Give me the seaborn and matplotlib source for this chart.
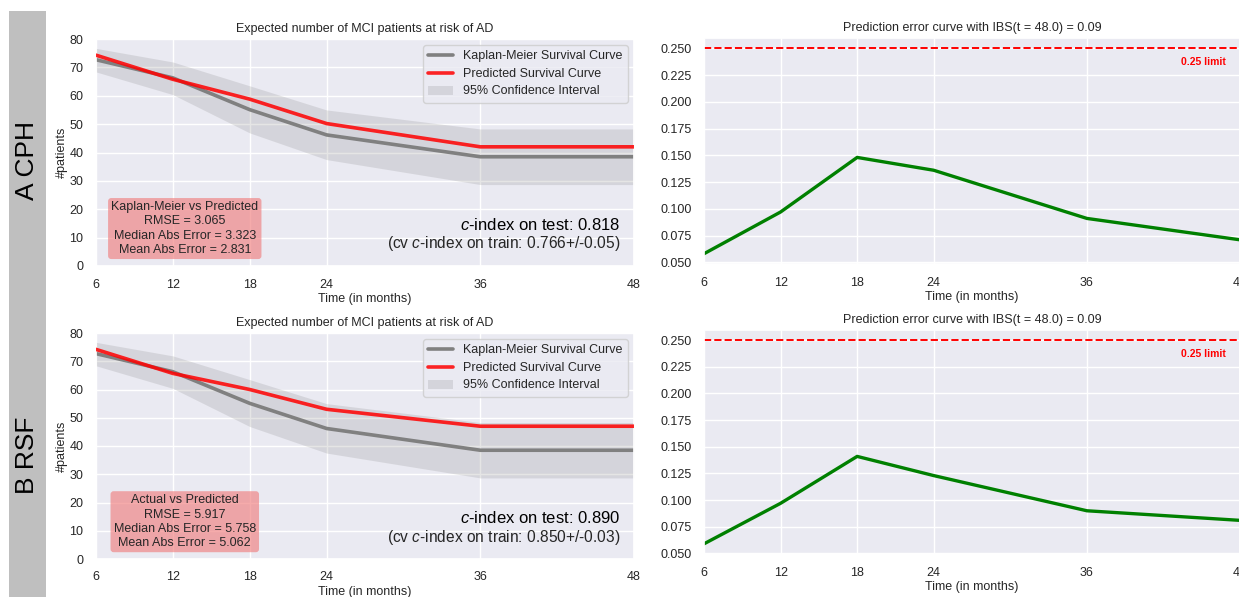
import matplotlib
matplotlib.use("Agg")
import matplotlib.pyplot as plt
from matplotlib.patches import Rectangle, Patch
from matplotlib.lines import Line2D
from matplotlib.ticker import MultipleLocator, FormatStrFormatter
import seaborn as sns
import pandas as pd

# ---- data -------------------------------------------------------------
months = [6, 12, 18, 24, 36, 48]
km_at_risk = [72.7, 66.3, 55.1, 46.2, 38.5, 38.5]
ci_upper = [76.7, 71.9, 63.5, 55.0, 48.3, 48.3]
ci_lower = [68.4, 60.4, 46.9, 37.5, 28.7, 28.7]
cph_predicted = [74.3, 65.8, 58.8, 50.2, 42.0, 42.0]
rsf_predicted = [74.2, 65.7, 60.0, 53.0, 47.0, 47.0]
cph_error = [0.058, 0.097, 0.148, 0.136, 0.091, 0.071]
rsf_error = [0.059, 0.097, 0.141, 0.123, 0.090, 0.081]

model_labels = ["A CPH", "B RSF"]
box_titles = ["Kaplan-Meier vs Predicted", "Actual vs Predicted"]
rmse = ["3.065", "5.917"]
median_abs = ["3.323", "5.758"]
mean_abs = ["2.831", "5.062"]
c_test = ["0.818", "0.890"]
c_train = ["0.766+/-0.05", "0.850+/-0.03"]
ibs = ["0.09", "0.09"]
limit = 0.25

# ---- style ------------------------------------------------------------
sns.set_theme(style="darkgrid")
plt.rcParams["font.family"] = ["Liberation Sans", "DejaVu Sans"]
plt.rcParams["mathtext.fontset"] = "custom"
plt.rcParams["mathtext.rm"] = "Liberation Sans"
plt.rcParams["mathtext.it"] = "Liberation Sans:italic"
TXT = "#262626"

W, H = 1239, 597
fig = plt.figure(figsize=(W / 100, H / 100), dpi=100)


def px_axes(x0, y0, x1, y1):
    return fig.add_axes([x0 / W, 1 - y1 / H, (x1 - x0) / W, (y1 - y0) / H])


# grey side strip with row labels
fig.patches.append(Rectangle((9 / W, 0), 37 / W, 1 - 11 / H,
                             transform=fig.transFigure, facecolor="#bfbfbf",
                             edgecolor="none", zorder=0))
for lab, yc in zip(model_labels, [160, 455]):
    fig.text(27.5 / W, 1 - yc / H, lab, rotation=90, ha="center", va="center",
             fontsize=19, color="black")

left_boxes = [(96, 39, 634, 266), (96, 333, 634, 559)]
right_boxes = [(704, 38, 1240, 264), (704, 330, 1240, 554)]
predictions = [cph_predicted, rsf_predicted]
errors = [cph_error, rsf_error]

for i in range(2):
    # --- survival curves ------------------------------------------------
    ax = px_axes(*left_boxes[i])
    df = pd.DataFrame({"month": months, "km": km_at_risk,
                       "pred": predictions[i]})
    ax.fill_between(months, ci_lower, ci_upper, color="gray", alpha=0.2,
                    linewidth=0, zorder=1)
    sns.lineplot(data=df, x="month", y="km", ax=ax, color="gray", lw=2.6,
                 zorder=2)
    sns.lineplot(data=df, x="month", y="pred", ax=ax, color="red", lw=2.6,
                 alpha=0.85, zorder=3)
    ax.set_xlim(6, 48)
    ax.set_ylim(0, 80)
    ax.set_xticks(months)
    ax.set_yticks(range(0, 81, 10))
    ax.tick_params(labelsize=9, pad=3, colors=TXT)
    ax.set_title("Expected number of MCI patients at risk of AD",
                 fontsize=9, color=TXT, pad=5)
    ax.set_xlabel("Time (in months)", fontsize=9, color=TXT, labelpad=2)
    ax.set_ylabel("#patients", fontsize=9, color=TXT, labelpad=1)
    handles = [Line2D([], [], color="gray", lw=2.6),
               Line2D([], [], color="red", lw=2.6, alpha=0.85),
               Patch(facecolor="gray", alpha=0.2, edgecolor="none")]
    ax.legend(handles, ["Kaplan-Meier Survival Curve",
                        "Predicted Survival Curve",
                        "95% Confidence Interval"],
              loc="upper right", fontsize=9, frameon=True,
              borderaxespad=0.5, labelspacing=0.45)
    box_text = "\n".join([box_titles[i], f"RMSE = {rmse[i]}",
                          f"Median Abs Error = {median_abs[i]}",
                          f"Mean Abs Error = {mean_abs[i]}"])
    ax.text(0.165, 0.165, box_text, transform=ax.transAxes, ha="center",
            va="center", fontsize=9, color=TXT, linespacing=1.25,
            bbox=dict(boxstyle="round,pad=0.25", facecolor="lightcoral",
                      alpha=0.66, edgecolor="none"))
    ax.text(0.974, 0.18, f"$c$-index on test: {c_test[i]}",
            transform=ax.transAxes, ha="right", va="center", fontsize=12,
            color="black")
    ax.text(0.974, 0.097, f"(cv $c$-index on train: {c_train[i]})",
            transform=ax.transAxes, ha="right", va="center", fontsize=11.2,
            color=TXT)

    # --- prediction error curve ----------------------------------------
    axr = px_axes(*right_boxes[i])
    edf = pd.DataFrame({"month": months, "err": errors[i]})
    sns.lineplot(data=edf, x="month", y="err", ax=axr, color="green", lw=2.4)
    axr.axhline(limit, color="red", ls="--", lw=1.4)
    axr.set_xlim(6, 48)
    axr.set_xticks(months)
    axr.yaxis.set_major_locator(MultipleLocator(0.025))
    axr.yaxis.set_major_formatter(FormatStrFormatter("%.3f"))
    axr.tick_params(labelsize=9, pad=3, colors=TXT)
    axr.set_title(f"Prediction error curve with IBS(t = 48.0) = {ibs[i]}",
                  fontsize=9, color=TXT, pad=5)
    axr.set_xlabel("Time (in months)", fontsize=9, color=TXT, labelpad=2)
    axr.set_ylabel("")
    axr.text(45.1, limit - 0.0125, f"{limit:.2f} limit", color="red",
             fontsize=7.5, fontweight="bold", ha="center", va="center")

fig.savefig("out.png", dpi=100)
